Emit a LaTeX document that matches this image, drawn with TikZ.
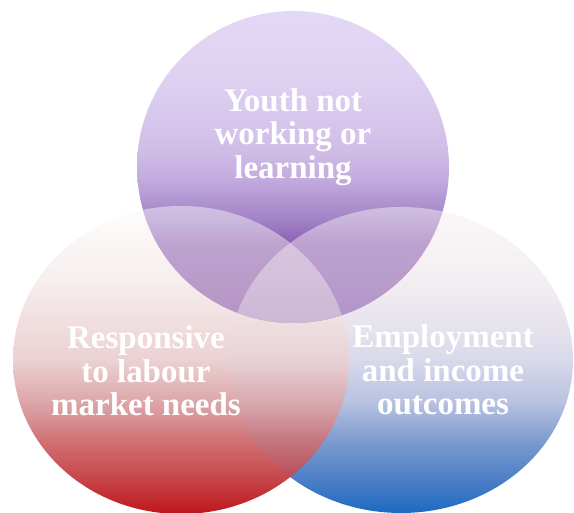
\documentclass[tikz,border=0pt]{standalone}
\usepackage{fontspec}
\setmainfont{Liberation Serif}
\usepackage{tikz}
\usetikzlibrary{positioning}

% purple ring
\definecolor{tp0}{HTML}{8655AA}
\definecolor{tp1}{HTML}{8C5DAF}
\definecolor{tp2}{HTML}{A282C6}
\definecolor{tp3}{HTML}{B298D3}
\definecolor{tp4}{HTML}{C2ABDE}
\definecolor{tp5}{HTML}{D0BDE6}
\definecolor{tp6}{HTML}{DACCEF}
\definecolor{tp7}{HTML}{E0D3F2}
\definecolor{tp8}{HTML}{E3D8F5}
% red ring
\definecolor{lr0}{HTML}{BF151B}
\definecolor{lr1}{HTML}{C64448}
\definecolor{lr2}{HTML}{D07274}
\definecolor{lr3}{HTML}{DA9EA1}
\definecolor{lr4}{HTML}{EBD1D3}
\definecolor{lr5}{HTML}{F7EEEE}
\definecolor{lr6}{HTML}{FEFDFD}
% blue ring
\definecolor{rb0}{HTML}{1C6AC0}
\definecolor{rb1}{HTML}{4A7EC6}
\definecolor{rb2}{HTML}{7E9CD0}
\definecolor{rb3}{HTML}{B9C2E0}
\definecolor{rb4}{HTML}{D8D9EB}
\definecolor{rb5}{HTML}{E6E2ED}
\definecolor{rb6}{HTML}{F3EEF2}
\definecolor{rb7}{HTML}{FCF7F7}

\pgfdeclareverticalshading{topshade}{100bp}{color(0bp)=(tp0); color(25bp)=(tp0);
	color(37.5bp)=(tp1); color(41.5bp)=(tp2); color(45bp)=(tp3); color(48bp)=(tp4);
	color(52.7bp)=(tp5); color(60.7bp)=(tp6); color(67bp)=(tp7); color(75bp)=(tp8); color(100bp)=(tp8)}
\pgfdeclareverticalshading{leftshade}{100bp}{color(0bp)=(lr0); color(25bp)=(lr0);
	color(30.5bp)=(lr1); color(37bp)=(lr2); color(42bp)=(lr3); color(50bp)=(lr4);
	color(63bp)=(lr5); color(75bp)=(lr6); color(100bp)=(lr6)}
\pgfdeclareverticalshading{rightshade}{100bp}{color(0bp)=(rb0); color(25bp)=(rb0);
	color(30.3bp)=(rb1); color(37bp)=(rb2); color(43.3bp)=(rb3); color(50bp)=(rb4);
	color(55bp)=(rb5); color(63bp)=(rb6); color(75bp)=(rb7); color(100bp)=(rb7)}

\begin{document}
\begin{tikzpicture}
	[   x=1pt, y=1pt,
	    vlabel/.style={text=white,align=center,font=\bfseries\fontsize{33}{33.5}\selectfont},
	]
	\tikzset{wash/.style={fill opacity=#1}}
	\useasboundingbox (0,0) rectangle (574,513);
	
	\coordinate (ctop) at (293,346);
	\coordinate (cleft) at (181,153);
	\coordinate (cright) at (401,153);
	\def\topring{(ctop) circle [radius=156pt]}
	\def\leftring{(cleft) ellipse [x radius=168pt, y radius=154pt]}
	\def\rightring{(cright) ellipse [x radius=172pt, y radius=153pt]}
	
	\shade[shading=rightshade] \rightring;
	\shade[shading=leftshade] \leftring;
	\begin{scope}
		\clip \leftring;
		\shade[shading=rightshade,wash=0.12] \rightring;
	\end{scope}
	
	\shade[shading=topshade] \topring;
	\begin{scope}
		\clip \topring;
		\shade[shading=leftshade,wash=0.45] \leftring;
		\shade[shading=rightshade,wash=0.45] \rightring;
	\end{scope}
	
	\node[vlabel] (youth) at (293,376) {Youth not\\working or\\learning};
	\node[vlabel] (resp) at (146,142) {Responsive\\to labour\\market needs};
	\node[vlabel] (empl) at (443,143) {Employment\\and income\\outcomes};
	
\end{tikzpicture}
\end{document}
